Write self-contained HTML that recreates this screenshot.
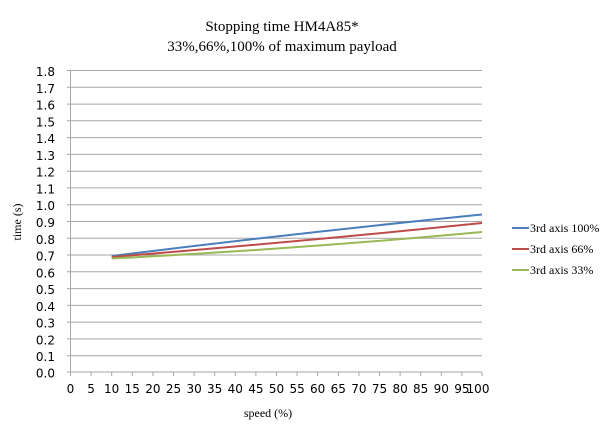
<!DOCTYPE html>
<html><head><style>body{margin:0;background:#fff}svg{display:block}</style></head><body>
<svg width="600" height="430" xmlns="http://www.w3.org/2000/svg">
<rect width="600" height="430" fill="#fff"/>
<g font-family="Liberation Serif, serif" font-size="15" text-anchor="middle" fill="#000">
<text x="282" y="31">Stopping time HM4A85*</text>
<text x="282" y="51">33%,66%,100% of maximum payload</text>
</g>
<g stroke="#a6a6a6" stroke-width="1">
<line x1="67" y1="70.5" x2="482" y2="70.5"/><line x1="67" y1="87.3" x2="482" y2="87.3"/><line x1="67" y1="104.1" x2="482" y2="104.1"/><line x1="67" y1="120.8" x2="482" y2="120.8"/><line x1="67" y1="137.6" x2="482" y2="137.6"/><line x1="67" y1="154.4" x2="482" y2="154.4"/><line x1="67" y1="171.2" x2="482" y2="171.2"/><line x1="67" y1="187.9" x2="482" y2="187.9"/><line x1="67" y1="204.7" x2="482" y2="204.7"/><line x1="67" y1="221.5" x2="482" y2="221.5"/><line x1="67" y1="238.3" x2="482" y2="238.3"/><line x1="67" y1="255.0" x2="482" y2="255.0"/><line x1="67" y1="271.8" x2="482" y2="271.8"/><line x1="67" y1="288.6" x2="482" y2="288.6"/><line x1="67" y1="305.4" x2="482" y2="305.4"/><line x1="67" y1="322.1" x2="482" y2="322.1"/><line x1="67" y1="338.9" x2="482" y2="338.9"/><line x1="67" y1="355.7" x2="482" y2="355.7"/><line x1="67" y1="372" x2="482" y2="372"/>
<line x1="70.5" y1="70" x2="70.5" y2="376"/>
</g>
<g stroke="#a6a6a6">
<line x1="91.1" y1="372" x2="91.1" y2="376"/><line x1="111.7" y1="372" x2="111.7" y2="376"/><line x1="132.3" y1="372" x2="132.3" y2="376"/><line x1="152.9" y1="372" x2="152.9" y2="376"/><line x1="173.5" y1="372" x2="173.5" y2="376"/><line x1="194.1" y1="372" x2="194.1" y2="376"/><line x1="214.7" y1="372" x2="214.7" y2="376"/><line x1="235.3" y1="372" x2="235.3" y2="376"/><line x1="255.9" y1="372" x2="255.9" y2="376"/><line x1="276.5" y1="372" x2="276.5" y2="376"/><line x1="297.1" y1="372" x2="297.1" y2="376"/><line x1="317.7" y1="372" x2="317.7" y2="376"/><line x1="338.3" y1="372" x2="338.3" y2="376"/><line x1="358.9" y1="372" x2="358.9" y2="376"/><line x1="379.5" y1="372" x2="379.5" y2="376"/><line x1="400.1" y1="372" x2="400.1" y2="376"/><line x1="420.7" y1="372" x2="420.7" y2="376"/><line x1="441.3" y1="372" x2="441.3" y2="376"/><line x1="461.9" y1="372" x2="461.9" y2="376"/><line x1="482" y1="372" x2="482" y2="376"/>
</g>
<g font-family="DejaVu Sans, sans-serif" font-size="12" fill="#000" text-anchor="end">
<text x="55" y="76">1.8</text><text x="55" y="92.8">1.7</text><text x="55" y="109.6">1.6</text><text x="55" y="126.3">1.5</text><text x="55" y="143.1">1.4</text><text x="55" y="159.9">1.3</text><text x="55" y="176.7">1.2</text><text x="55" y="193.4">1.1</text><text x="55" y="210.2">1.0</text><text x="55" y="227">0.9</text><text x="55" y="243.8">0.8</text><text x="55" y="260.5">0.7</text><text x="55" y="277.3">0.6</text><text x="55" y="294.1">0.5</text><text x="55" y="310.9">0.4</text><text x="55" y="327.6">0.3</text><text x="55" y="344.4">0.2</text><text x="55" y="361.2">0.1</text><text x="55" y="377.5">0.0</text>
</g>
<g font-family="DejaVu Sans, sans-serif" font-size="12" fill="#000" text-anchor="middle">
<text x="70.5" y="393">0</text><text x="91.1" y="393">5</text><text x="111.7" y="393">10</text><text x="132.3" y="393">15</text><text x="152.9" y="393">20</text><text x="173.5" y="393">25</text><text x="194.1" y="393">30</text><text x="214.7" y="393">35</text><text x="235.3" y="393">40</text><text x="255.9" y="393">45</text><text x="276.5" y="393">50</text><text x="297.1" y="393">55</text><text x="317.7" y="393">60</text><text x="338.3" y="393">65</text><text x="358.9" y="393">70</text><text x="379.5" y="393">75</text><text x="400.1" y="393">80</text><text x="420.7" y="393">85</text><text x="441.3" y="393">90</text><text x="461.9" y="393">95</text><text x="478" y="393">100</text>
</g>
<g font-family="Liberation Serif, serif" font-size="12" fill="#000">
<text x="268" y="417" text-anchor="middle">speed (%)</text>
<text transform="translate(21,222) rotate(-90)" text-anchor="middle">time (s)</text>
</g>
<g fill="none" stroke-width="2">
<path stroke="#4a7ebb" d="M111.7,256 Q297,233 482,214.5"/>
<path stroke="#be4b48" d="M111.7,257 Q297,242 482,223"/>
<path stroke="#98b954" d="M111.7,258.5 Q297,249 482,232"/>
</g>
<g stroke-width="2">
<line x1="512" y1="228" x2="529" y2="228" stroke="#4a7ebb"/>
<line x1="512" y1="249" x2="529" y2="249" stroke="#be4b48"/>
<line x1="512" y1="270" x2="529" y2="270" stroke="#98b954"/>
</g>
<g font-family="Liberation Serif, serif" font-size="12" fill="#000">
<text x="530" y="232">3rd axis 100%</text>
<text x="530" y="253">3rd axis 66%</text>
<text x="530" y="274">3rd axis 33%</text>
</g>
</svg>
</body></html>
